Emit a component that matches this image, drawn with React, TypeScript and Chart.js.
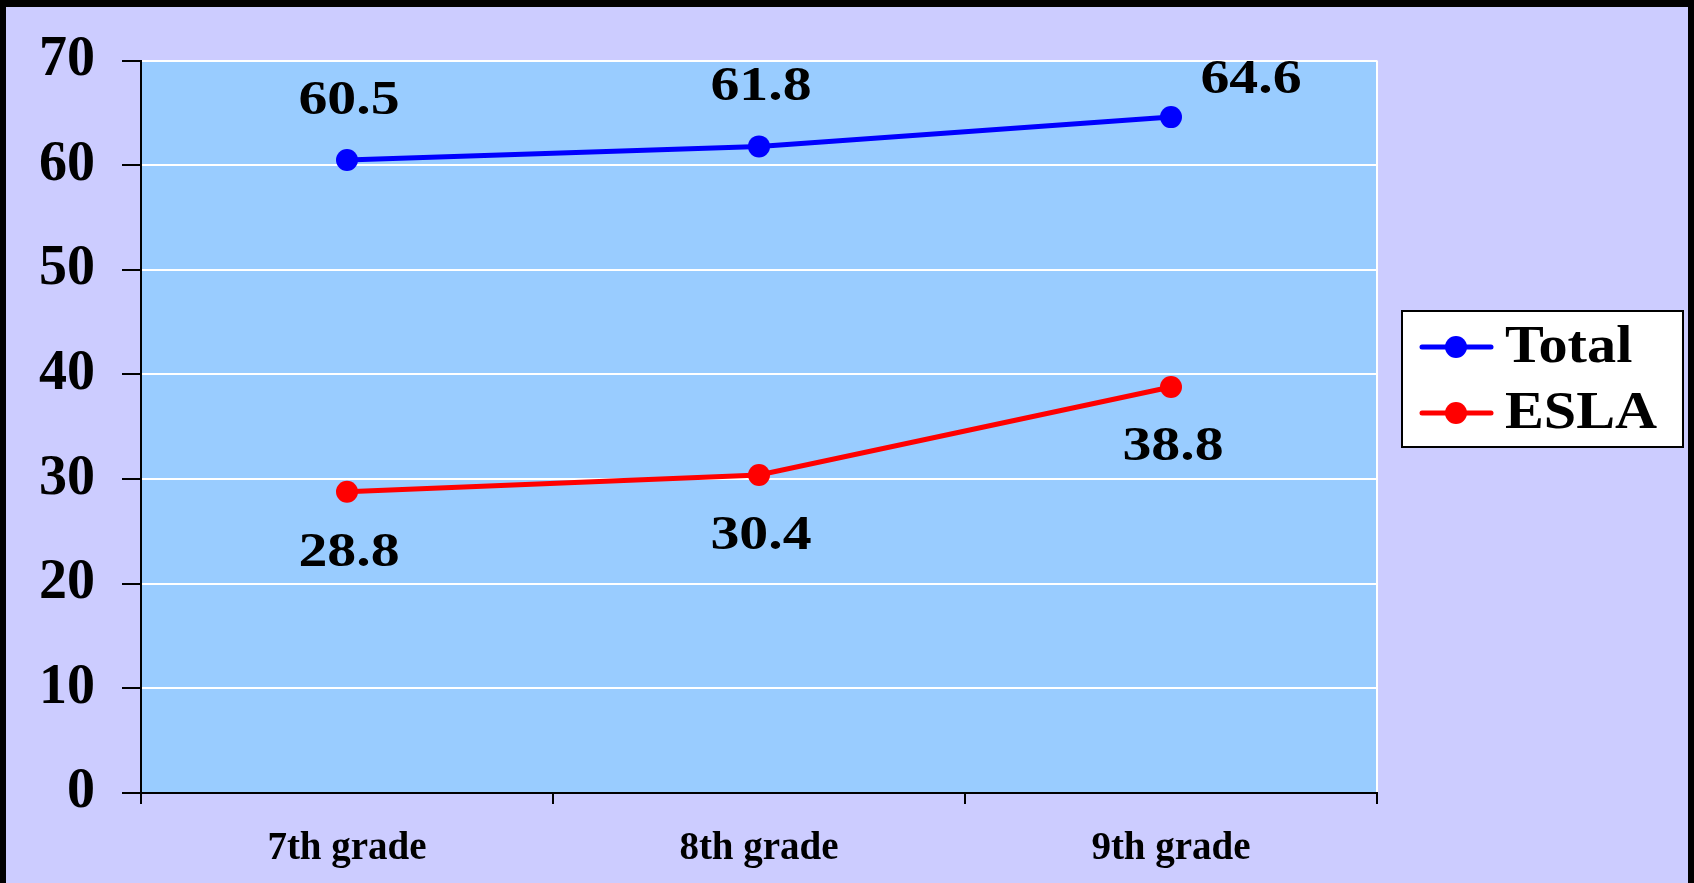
import React, { useEffect, useRef } from "react";
import { Chart, registerables } from "chart.js";

Chart.register(...registerables);

const categories = ["7th grade", "8th grade", "9th grade"];
const totalValues = [60.5, 61.8, 64.6];
const eslaValues = [28.8, 30.4, 38.8];
const yTicks = [0, 10, 20, 30, 40, 50, 60, 70];

const FONT = "'Liberation Serif', 'Times New Roman', serif";

// label offsets (style only)
const labelOffsets: Record<number, { dx: number; dy: number }[]> = {
  0: [
    { dx: 2, dy: -59 },
    { dx: 2, dy: -59 },
    { dx: 80, dy: -37 },
  ],
  1: [
    { dx: 2, dy: 62 },
    { dx: 2, dy: 61 },
    { dx: 2, dy: 60 },
  ],
};

function stretchText(ctx: any, text: string, x: number, y: number, sx: number) {
  ctx.save();
  ctx.translate(x, y);
  ctx.scale(sx, 1);
  ctx.fillText(text, 0, 0);
  ctx.restore();
}

const bgPlugin = {
  id: "bgPlugin",
  beforeDraw(chart: any) {
    const { ctx, width, height, chartArea } = chart;
    ctx.save();
    ctx.fillStyle = "#CCCCFF";
    ctx.fillRect(0, 0, width, height);
    ctx.fillStyle = "#000000";
    ctx.fillRect(0, 0, width, 7);
    ctx.fillRect(0, 0, 6, height);
    ctx.fillRect(width - 6, 0, 6, height);
    ctx.fillStyle = "#99CCFF";
    ctx.fillRect(chartArea.left, chartArea.top, chartArea.right - chartArea.left, chartArea.bottom - chartArea.top);
    ctx.restore();
  },
  beforeDatasetsDraw(chart: any) {
    const { ctx, chartArea } = chart;
    ctx.save();
    ctx.strokeStyle = "#FFFFFF";
    ctx.lineWidth = 2;
    ctx.beginPath();
    ctx.moveTo(chartArea.right, chartArea.top);
    ctx.lineTo(chartArea.right, chartArea.bottom - 1);
    ctx.stroke();
    ctx.restore();
  },
};

const labelPlugin = {
  id: "labelPlugin",
  afterDatasetsDraw(chart: any) {
    const { ctx } = chart;
    ctx.save();
    ctx.font = `bold 49px ${FONT}`;
    ctx.fillStyle = "#000";
    ctx.textAlign = "center";
    ctx.textBaseline = "middle";
    chart.data.datasets.forEach((ds: any, di: number) => {
      const meta = chart.getDatasetMeta(di);
      meta.data.forEach((pt: any, i: number) => {
        const off = labelOffsets[di][i];
        stretchText(ctx, String(ds.data[i]), pt.x + off.dx, pt.y + off.dy, 1.18);
      });
    });
    ctx.restore();
  },
};

const legendPlugin = {
  id: "legendPlugin",
  afterDraw(chart: any) {
    const { ctx } = chart;
    const x0 = 1402, y0 = 311, w = 281, h = 136;
    ctx.save();
    ctx.fillStyle = "#FFFFFF";
    ctx.fillRect(x0, y0, w, h);
    ctx.strokeStyle = "#000";
    ctx.lineWidth = 2;
    ctx.strokeRect(x0, y0, w, h);
    const rows = [347, 413];
    chart.data.datasets.forEach((ds: any, i: number) => {
      const y = rows[i];
      ctx.strokeStyle = ds.borderColor;
      ctx.lineWidth = 5;
      ctx.lineCap = "round";
      ctx.beginPath();
      ctx.moveTo(1422, y);
      ctx.lineTo(1491, y);
      ctx.stroke();
      ctx.fillStyle = ds.backgroundColor;
      ctx.beginPath();
      ctx.arc(1456, y, 11, 0, Math.PI * 2);
      ctx.fill();
      ctx.fillStyle = "#000";
      ctx.font = `bold 52px ${FONT}`;
      ctx.textAlign = "left";
      ctx.textBaseline = "middle";
      stretchText(ctx, ds.label, 1505, y + 2, 1.12);
    });
    ctx.restore();
  },
};

export default function App() {
  const ref = useRef<HTMLCanvasElement>(null);
  useEffect(() => {
    document.body.style.margin = "0";
    const chart = new Chart(ref.current!, {
      type: "line",
      data: {
        labels: categories,
        datasets: [
          {
            label: "Total",
            data: totalValues,
            borderColor: "#0000FF",
            backgroundColor: "#0000FF",
            borderWidth: 5,
            pointRadius: 11,
            pointBorderWidth: 0,
            tension: 0,
          },
          {
            label: "ESLA",
            data: eslaValues,
            borderColor: "#FF0000",
            backgroundColor: "#FF0000",
            borderWidth: 5,
            pointRadius: 11,
            pointBorderWidth: 0,
            tension: 0,
          },
        ],
      },
      options: {
        animation: false,
        responsive: true,
        maintainAspectRatio: false,
        devicePixelRatio: 1,
        layout: { padding: { top: 58, right: 317, left: 0, bottom: 0 } },
        plugins: { legend: { display: false }, tooltip: { enabled: false } },
        scales: {
          x: {
            type: "category",
            offset: true,
            grid: {
              offset: true,
              drawOnChartArea: false,
              color: "#000",
              tickColor: "#000",
              tickLength: 11,
              lineWidth: 2,
            },
            border: { color: "#000", width: 2 },
            ticks: {
              color: "#000",
              font: { family: FONT, weight: "bold", size: 39 },
              padding: 22,
              maxRotation: 0,
            },
            afterFit: (s: any) => {
              s.height = 90;
            },
          },
          y: {
            min: 0,
            max: 70,
            afterBuildTicks: (s: any) => {
              s.ticks = yTicks.map((v) => ({ value: v }));
            },
            grid: {
              color: "#FFFFFF",
              tickColor: "#000",
              tickLength: 19,
              lineWidth: 2,
            },
            border: { color: "#000", width: 2 },
            ticks: {
              color: "#000",
              font: { family: FONT, weight: "bold", size: 56 },
              padding: 27,
            },
            afterFit: (s: any) => {
              s.width = 141;
            },
          },
        },
      },
      plugins: [bgPlugin, labelPlugin, legendPlugin],
    } as any);
    return () => chart.destroy();
  }, []);
  return (
    <div style={{ width: 1694, height: 883, position: "relative" }}>
      <canvas ref={ref} />
    </div>
  );
}
